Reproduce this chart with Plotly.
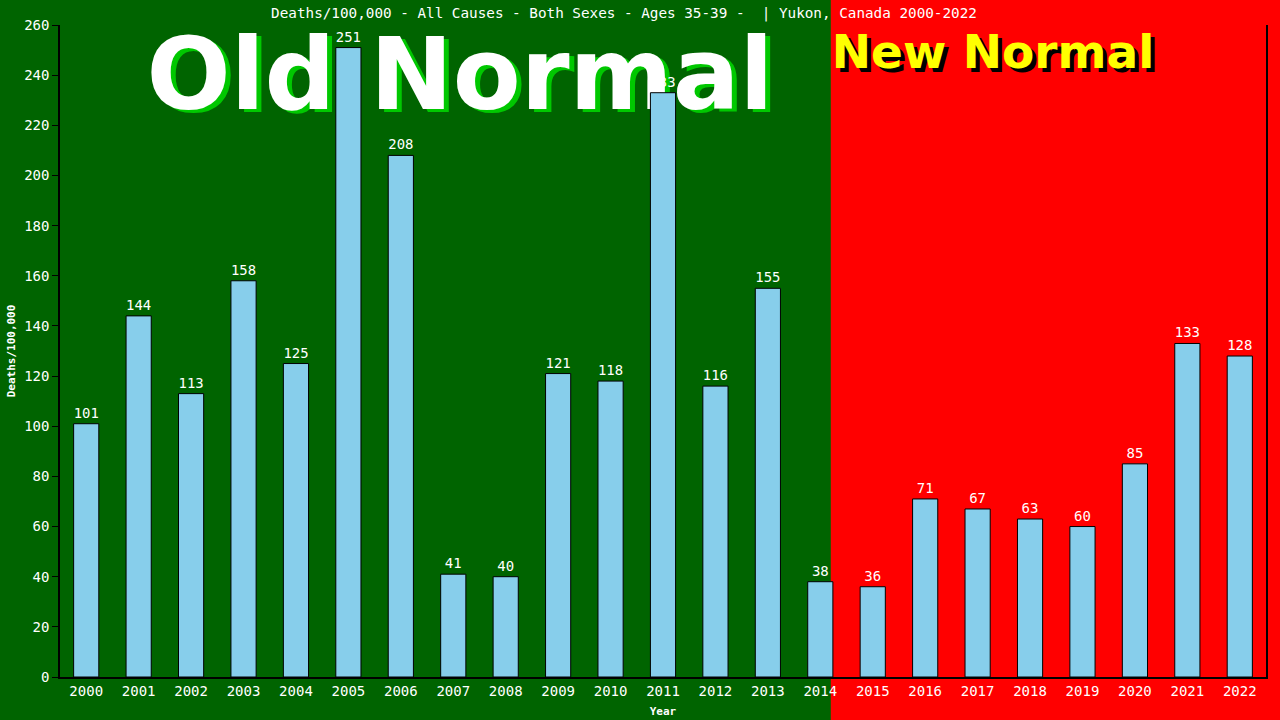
import plotly.graph_objects as go

years = [str(y) for y in range(2000, 2023)]
deaths = [101, 144, 113, 158, 125, 251, 208, 41, 40, 121, 118, 233, 116, 155,
          38, 36, 71, 67, 63, 60, 85, 133, 128]
y_ticks = list(range(0, 261, 20))
title_text = "Deaths/100,000 - All Causes - Both Sexes - Ages 35-39 -  | Yukon, Canada 2000-2022"
old_label = "Old Normal"
new_label = "New Normal"

W, H = 1280, 720
ML, MR, MT, MB = 60, 14, 25, 43
x_range = [-0.5, 22.5]
boundary = 14.2  # data position where green turns red
bfrac = (boundary - x_range[0]) / (x_range[1] - x_range[0])

GREEN = "#006400"
RED = "#FF0000"
MONO = "DejaVu Sans Mono"
SANSB = "DejaVu Sans"

fig = go.Figure()

# base (hidden) axes in pixel-like coordinates for the big background words
bx = [ML, W - MR]
by = [MB, H - MT]

def word(x, y, text, size, color):
    fig.add_trace(go.Scatter(x=[x], y=[y], mode="text", text=[text],
                             textposition="middle center", cliponaxis=False,
                             textfont=dict(family=SANSB, size=size, color=color, weight="bold"),
                             hoverinfo="skip", showlegend=False, xaxis="x", yaxis="y"))

# Old Normal with green shadow
word(460 + 5, H - 84 - 3, old_label, 99, "#00C800")
word(460, H - 84, old_label, 99, "white")
# New Normal with black shadow
word(993 + 4, H - 56 - 4, new_label, 47, "black")
word(993, H - 56, new_label, 47, "#FFFF00")

fig.add_trace(go.Bar(
    x=years, y=deaths, width=0.48,
    marker=dict(color="#87CEEB", line=dict(color="black", width=1)),
    text=[str(v) for v in deaths], textposition="outside", cliponaxis=False,
    textfont=dict(family=MONO, size=14, color="white"),
    xaxis="x2", yaxis="y2", showlegend=False,
))

fig.update_layout(
    width=W, height=H,
    margin=dict(l=ML, r=MR, t=MT, b=MB, autoexpand=False),
    paper_bgcolor=RED,
    plot_bgcolor="rgba(0,0,0,0)",
    showlegend=False,
    title=dict(text=title_text, x=624 / W, xanchor="center", y=1 - 13 / H, yanchor="middle",
               font=dict(family=MONO, size=14.3, color="white")),
    shapes=[dict(type="rect", xref="paper", yref="paper", x0=-0.2, x1=bfrac, y0=-0.2, y1=1.2,
                 fillcolor=GREEN, line=dict(width=0), layer="below")],
    xaxis=dict(range=bx, visible=False, fixedrange=True, automargin=False),
    yaxis=dict(range=by, visible=False, fixedrange=True, automargin=False),
    xaxis2=dict(overlaying="x", type="category", range=x_range, showline=True, linecolor="black",
                linewidth=1.5, ticks="", showgrid=False,
                automargin=False,
                tickfont=dict(family=MONO, size=14, color="white"),
                title=dict(text="<b>Year</b>", font=dict(family=MONO, size=11, color="white"), standoff=10)),
    yaxis2=dict(overlaying="y", range=[0, 260], tickvals=y_ticks, showline=True, linecolor="black",
                linewidth=1.5, mirror=True, ticks="outside", ticklen=6, tickcolor="black",
                showgrid=False, zeroline=False, automargin=False,
                tickfont=dict(family=MONO, size=14, color="white"),
                title=dict(text="<b>Deaths/100,000</b>", font=dict(family=MONO, size=11, color="white"),
                           standoff=6)),
)

fig.write_html("out.html", config={"displayModeBar": False},
               post_script="document.body.style.margin='0';")
